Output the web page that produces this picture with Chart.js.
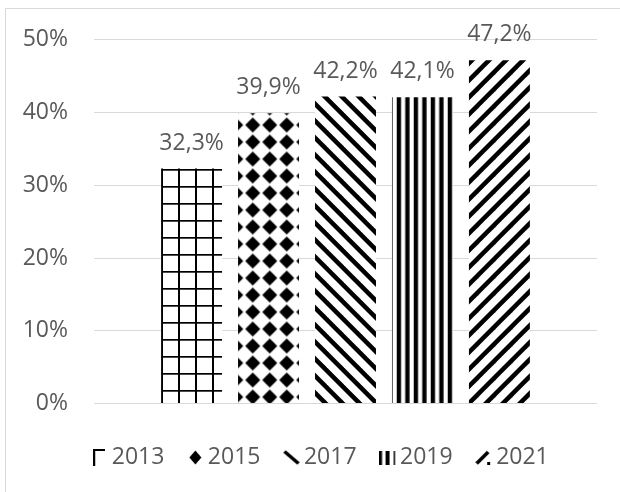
<!DOCTYPE html>
<html>
<head>
<meta charset="utf-8">
<script src="https://cdn.jsdelivr.net/npm/chart.js@4/dist/chart.umd.min.js"></script>
<style>
html, body { margin: 0; padding: 0; background: #fff; }
</style>
</head>
<body>
<canvas id="grafico" width="620" height="492"></canvas>
<script>
const anni = ["2013", "2015", "2017", "2019", "2021"];
const valori = [32.3, 39.9, 42.2, 42.1, 47.2];
const tickY = [0, 10, 20, 30, 40, 50];

const grigio = "#595959";
const font = { family: "'Open Sans', sans-serif", size: 23 };

function tile(w, h, draw) {
	const c = document.createElement("canvas");
	c.width = w;
	c.height = h;
	const g = c.getContext("2d");
	g.fillStyle = "#fff";
	g.fillRect(0, 0, w, h);
	g.fillStyle = "#000";
	g.strokeStyle = "#000";
	draw(g, w, h);
	return c;
}
function icona(w, h, draw) {
	const c = document.createElement("canvas");
	c.width = w;
	c.height = h;
	const g = c.getContext("2d");
	g.fillStyle = "#000";
	g.strokeStyle = "#000";
	draw(g, w, h);
	return c;
}
function banda(g, t, su) {
	// striscia diagonale larga, ripetuta ogni 17px
	for (const k of [-1, 0]) {
		g.beginPath();
		if (su) {
			g.moveTo(k * 17, 17); g.lineTo(k * 17 + t, 17);
			g.lineTo(k * 17 + t + 17, 0); g.lineTo(k * 17 + 17, 0);
		} else {
			g.moveTo(k * 17, 0); g.lineTo(k * 17 + t, 0);
			g.lineTo(k * 17 + t + 17, 17); g.lineTo(k * 17 + 17, 17);
		}
		g.closePath();
		g.fill();
	}
}
function rombo(g, cx, cy, rx, ry, r) {
	g.beginPath();
	g.moveTo(cx, cy - ry); g.lineTo(cx + rx, cy);
	g.lineTo(cx, cy + ry); g.lineTo(cx - rx, cy);
	g.closePath();
	g.fill();
	g.beginPath();
	g.arc(cx, cy, r, 0, Math.PI * 2);
	g.fill();
}

const tiles = [
	tile(17, 17, g => { g.fillRect(0, 0, 2, 17); g.fillRect(0, 0, 17, 1.7); }),
	tile(17, 17, g => rombo(g, 8.5, 8.5, 7.5, 7.5, 5)),
	tile(17, 17, g => banda(g, 6.4, false)),
	tile(17, 17, g => { g.fillRect(0, 0, 4.3, 17); g.fillRect(8.5, 0, 4.3, 17); }),
	tile(17, 17, g => banda(g, 6.4, true))
];
const shift = [[8, 16], [6.2, -2.5], [4, 0], [5.7, 0], [2, 0]];

const icone = [
	icona(12, 17, g => { g.fillRect(0, 0, 12, 2); g.fillRect(0, 0, 2, 17); }),
	icona(13, 15, g => rombo(g, 6.5, 7.5, 6, 7, 4)),
	icona(18, 15, g => { g.lineWidth = 3.5; g.beginPath(); g.moveTo(2, 1.5); g.lineTo(16, 13.5); g.stroke(); }),
	icona(18, 14, g => { g.fillRect(0, 0, 3.5, 14); g.fillRect(7, 0, 4, 14); g.fillRect(15, 0, 1.5, 14); }),
	icona(17, 15, g => { g.lineWidth = 3.5; g.beginPath(); g.moveTo(1.5, 13.5); g.lineTo(13, 2); g.stroke(); g.fillRect(12, 12, 3, 3); })
];

const ctx = document.getElementById("grafico").getContext("2d");
const motivi = tiles.map((t, i) => {
	const p = ctx.createPattern(t, "repeat");
	p.setTransform(new DOMMatrix([1, 0, 0, 1, shift[i][0], shift[i][1]]));
	return p;
});

const cornice = {
	id: "cornice",
	beforeDraw(chart) {
		const c = chart.ctx;
		c.save();
		c.fillStyle = "#fff";
		c.fillRect(0, 0, chart.width, chart.height);
		c.strokeStyle = "#d9d9d9";
		c.lineWidth = 1;
		c.beginPath();
		c.moveTo(5.5, chart.height);
		c.lineTo(5.5, 8.5);
		c.lineTo(chart.width, 8.5);
		c.stroke();
		c.restore();
	},
	afterLayout(chart) {
		// la legenda nell'originale è spostata verso destra
		chart.legend.left += 40;
	}
};

const etichette = {
	id: "etichette",
	afterDatasetsDraw(chart) {
		const c = chart.ctx;
		c.save();
		c.fillStyle = grigio;
		c.font = font.size + "px " + font.family;
		c.textAlign = "center";
		c.textBaseline = "alphabetic";
		chart.data.datasets.forEach((ds, i) => {
			const bar = chart.getDatasetMeta(i).data[0];
			const testo = ds.data[0].toFixed(1).replace(".", ",") + "%";
			c.fillText(testo, bar.x, bar.y - 19);
		});
		c.restore();
	}
};

new Chart(ctx, {
	type: "bar",
	data: {
		labels: [""],
		datasets: anni.map((a, i) => ({
			label: a,
			data: [valori[i]],
			backgroundColor: motivi[i],
			borderWidth: 0,
			categoryPercentage: 0.765,
			barPercentage: 0.792
		}))
	},
	options: {
		responsive: false,
		animation: false,
		devicePixelRatio: 1,
		layout: { padding: { left: 10, right: 23, top: 38, bottom: 13 } },
		scales: {
			x: {
				grid: { display: false },
				border: { display: false },
				ticks: { display: false },
				afterFit: s => { s.height = 12.5; }
			},
			y: {
				min: 0,
				max: 50,
				afterBuildTicks: s => { s.ticks = tickY.map(v => ({ value: v })); },
				afterFit: s => { s.width = 84; },
				grid: { color: "#d9d9d9", drawTicks: false },
				border: { display: false },
				ticks: {
					color: grigio,
					font: font,
					padding: 26,
					callback: v => v + "%"
				}
			}
		},
		plugins: {
			tooltip: { enabled: false },
			legend: {
				position: "bottom",
				labels: {
					color: grigio,
					font: font,
					usePointStyle: true,
					boxWidth: 2,
					boxHeight: 2,
					padding: 30,
					generateLabels: chart => chart.data.datasets.map((ds, i) => ({
						text: ds.label,
						fillStyle: "#000",
						strokeStyle: "#000",
						lineWidth: 0,
						pointStyle: icone[i],
						hidden: false,
						datasetIndex: i,
						fontColor: grigio
					}))
				}
			}
		}
	},
	plugins: [cornice, etichette]
});
</script>
</body>
</html>
